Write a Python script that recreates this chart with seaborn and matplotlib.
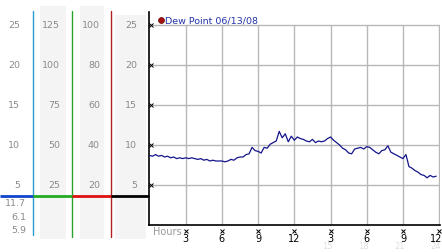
import numpy as np
import pandas as pd
import matplotlib
matplotlib.use("Agg")
import matplotlib.pyplot as plt
import matplotlib.transforms as mtransforms
from matplotlib.patches import Rectangle
import seaborn as sns

# ---------------- data ----------------
series_name = "Dew Point 06/13/08"
sample_hours = np.arange(96) * 0.25
dew_point = [
    8.7, 8.6, 8.8, 8.6, 8.7, 8.5, 8.6, 8.4, 8.5, 8.3, 8.4, 8.3,
    8.4, 8.3, 8.4, 8.3, 8.2, 8.3, 8.1, 8.2, 8.0, 8.1, 8.0, 8.0,
    8.0, 7.9, 8.0, 8.2, 8.1, 8.4, 8.5, 8.5, 8.8, 8.9, 9.7, 9.3,
    9.2, 9.0, 9.7, 9.6, 10.1, 10.3, 10.5, 11.7, 10.9, 11.4, 10.4, 11.1,
    10.6, 11.0, 10.8, 10.7, 10.5, 10.4, 10.7, 10.3, 10.5, 10.4, 10.5, 10.8,
    11.0, 10.6, 10.3, 10.0, 9.6, 9.4, 9.0, 8.9, 9.5, 9.6, 9.7, 9.5,
    9.8, 9.7, 9.4, 9.1, 8.9, 9.3, 9.4, 9.9, 9.1, 8.9, 8.7, 8.5,
    8.3, 8.8, 7.3, 7.1, 6.8, 6.6, 6.3, 6.2, 5.9, 6.2, 6.0, 6.1,
]
x_tick_hours = [3, 6, 9, 12, 15, 18, 21, 24]
x_tick_labels = ["3", "6", "9", "12", "3", "6", "9", "12"]
x_faint_hours = [15, 18, 21, 24]
x_faint_labels = ["15", "18", "21", "24"]
y_grid_values = [5, 10, 15, 20, 25]
scale_columns = [
    ["25", "20", "15", "10", "5"],
    ["125", "100", "75", "50", "25"],
    ["100", "80", "60", "40", "20"],
    ["25", "20", "15", "10", "5"],
]
stat_labels = ["11.7", "6.1", "5.9"]

df = pd.DataFrame({"hour": sample_hours, "dew": dew_point})

# ---------------- figure ----------------
sns.set_style("white")
plt.rcParams["font.family"] = ["DejaVu Sans"]

W, H = 442, 253
fig = plt.figure(figsize=(W / 100, H / 100), dpi=100)

# overlay in pixel coordinates for the left scale panel
ov = fig.add_axes([0, 0, 1, 1], zorder=0)
ov.set_xlim(0, W)
ov.set_ylim(H, 0)
ov.axis("off")

ax_left, ax_right, ax_top, ax_bot = 149, 440, 13, 226
ax = fig.add_axes([ax_left / W, (H - ax_bot) / H, (ax_right - ax_left) / W, (ax_bot - ax_top) / H], zorder=1)
ax.patch.set_alpha(0)

ymax = 26.625
ax.set_xlim(-0.04, 24.07)
ax.set_ylim(0, ymax)

# grid
for v in y_grid_values:
    ax.axhline(v, color="#b8b8b8", lw=1, zorder=0)
for h in x_tick_hours:
    ax.axvline(h, ymin=0, ymax=25 / ymax, color="#b8b8b8", lw=1, zorder=0)

sns.lineplot(data=df, x="hour", y="dew", ax=ax, color="#14148c", lw=0.9, zorder=3)

for s in ["top", "right"]:
    ax.spines[s].set_visible(False)
ax.spines["left"].set_color("black")
ax.spines["bottom"].set_color("black")
ax.spines["left"].set_linewidth(1.2)
ax.spines["bottom"].set_linewidth(1.2)
ax.set_xlabel("")
ax.set_ylabel("")
ax.set_yticks([])
ax.set_xticks(x_tick_hours, x_tick_labels)
ax.tick_params(axis="x", length=0, pad=5.5, labelsize=7, labelcolor="black")
last = ax.get_xticklabels()[-1]
last.set_horizontalalignment("right")
last.set_transform(last.get_transform() + mtransforms.ScaledTranslation(3 / 100, 0, fig.dpi_scale_trans))

# small tick glyphs
trans_xa = mtransforms.blended_transform_factory(ax.transData, ax.transAxes)
ax.plot(x_tick_hours, [-0.028] * len(x_tick_hours), "x", ms=2.2, mew=0.7, color="black",
        transform=trans_xa, clip_on=False)
trans_ay = mtransforms.blended_transform_factory(ax.transAxes, ax.transData)
ax.plot([0.007] * len(y_grid_values), y_grid_values, "x", ms=2.2, mew=0.7, color="black",
        transform=trans_ay, clip_on=False)

# faint second-row hour labels
trans_xp = mtransforms.blended_transform_factory(ax.transData, ov.transData)
for h, lab in zip(x_faint_hours, x_faint_labels):
    ax.text(h - 0.3, 247, lab, transform=trans_xp, ha="center", va="center",
            fontsize=6, color="#dedede", clip_on=False)

ax.text(153, 232.5, "Hours", transform=ov.transData, ha="left", va="center",
        fontsize=7, color="#999999")

# legend
ov.plot([161], [20.5], "o", ms=4.2, color="#aa1111", mec="#661111", mew=0.6)
ov.text(165, 20.5, series_name, ha="left", va="center", fontsize=6.8, color="#2233aa")

# ---------------- left scale panel ----------------
for x0, y0, x1 in [(40, 7, 66), (80, 7, 104), (115, 16, 146)]:
    ov.add_patch(Rectangle((x0, y0), x1 - x0, 240 - y0, color="#f4f4f4", lw=0, zorder=0))

ov.plot([33, 33], [12, 236], color="#2a9ad4", lw=1, zorder=2)
ov.plot([72, 72], [12, 238], color="#2ca02c", lw=1, zorder=2)
ov.plot([111, 111], [12, 238], color="#b22222", lw=1, zorder=2)

ov.plot([0, 33], [197, 197], color="#1144cc", lw=2, zorder=3, solid_capstyle="butt")
ov.plot([33, 72], [197, 197], color="#22aa22", lw=2, zorder=3, solid_capstyle="butt")
ov.plot([72, 111], [197, 197], color="#dd1111", lw=2, zorder=3, solid_capstyle="butt")
ov.plot([111, 149], [197, 197], color="black", lw=2, zorder=3, solid_capstyle="butt")

trans_scale = mtransforms.blended_transform_factory(ov.transData, ax.transData)
col_right = [20, 60, 100, 137]
for xr, labels in zip(col_right, scale_columns):
    for v, lab in zip(y_grid_values[::-1], labels):
        ov.text(xr, v, lab, transform=trans_scale, ha="right", va="center",
                fontsize=6.8, color="#8a8a8a")

for y, lab in zip([204, 218, 231], stat_labels):
    ov.text(26, y, lab, ha="right", va="center", fontsize=6.8, color="#8a8a8a")

fig.savefig("out.png", dpi=100)
